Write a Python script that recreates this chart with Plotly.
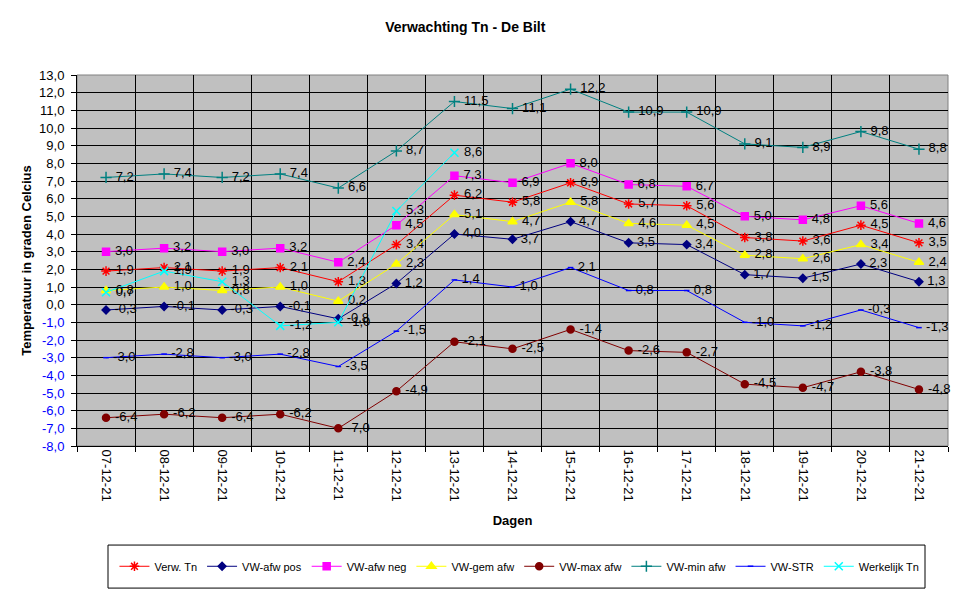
import plotly.graph_objects as go

# categories (days)
dagen = ["07-12-21", "08-12-21", "09-12-21", "10-12-21", "11-12-21", "12-12-21", "13-12-21",
         "14-12-21", "15-12-21", "16-12-21", "17-12-21", "18-12-21", "19-12-21", "20-12-21", "21-12-21"]

# series values
verw_tn = [1.9, 2.1, 1.9, 2.1, 1.3, 3.4, 6.2, 5.8, 6.9, 5.7, 5.6, 3.8, 3.6, 4.5, 3.5]
vw_afw_pos = [-0.3, -0.1, -0.3, -0.1, -0.8, 1.2, 4.0, 3.7, 4.7, 3.5, 3.4, 1.7, 1.5, 2.3, 1.3]
vw_afw_neg = [3.0, 3.2, 3.0, 3.2, 2.4, 4.5, 7.3, 6.9, 8.0, 6.8, 6.7, 5.0, 4.8, 5.6, 4.6]
vw_gem_afw = [0.8, 1.0, 0.8, 1.0, 0.2, 2.3, 5.1, 4.7, 5.8, 4.6, 4.5, 2.8, 2.6, 3.4, 2.4]
vw_max_afw = [-6.4, -6.2, -6.4, -6.2, -7.0, -4.9, -2.1, -2.5, -1.4, -2.6, -2.7, -4.5, -4.7, -3.8, -4.8]
vw_min_afw = [7.2, 7.4, 7.2, 7.4, 6.6, 8.7, 11.5, 11.1, 12.2, 10.9, 10.9, 9.1, 8.9, 9.8, 8.8]
vw_str = [-3.0, -2.8, -3.0, -2.8, -3.5, -1.5, 1.4, 1.0, 2.1, 0.8, 0.8, -1.0, -1.2, -0.3, -1.3]
werkelijk_tn = [0.7, 1.9, 1.3, -1.2, -1.0, 5.3, 8.6, None, None, None, None, None, None, None, None]

# y tick values
y_ticks = list(range(-8, 14))
y_ticktext = [
    (f"<span style='color:#0000FF'>{v},0</span>" if v < 0 else f"{v},0")
    for v in y_ticks
]

series = [
    ("Verw. Tn", verw_tn, "#FF0000", "asterisk-open", 8),
    ("VW-afw pos", vw_afw_pos, "#000080", "diamond", 6),
    ("VW-afw neg", vw_afw_neg, "#FF00FF", "square", 7),
    ("VW-gem afw", vw_gem_afw, "#FFFF00", "triangle-up", 8),
    ("VW-max afw", vw_max_afw, "#800000", "circle", 7),
    ("VW-min afw", vw_min_afw, "#008080", "cross-thin-open", 8),
    ("VW-STR", vw_str, "#0000FF", "line-ew-open", 4),
    ("Werkelijk Tn", werkelijk_tn, "#00FFFF", "x-thin-open", 8),
]

fig = go.Figure()
for name, vals, col, sym, sz in series:
    fig.add_trace(go.Scatter(
        x=dagen, y=vals, name=name, mode="lines+markers+text",
        line=dict(color=col, width=1),
        marker=dict(symbol=sym, size=sz, color=col, line=dict(color=col, width=1.5)),
        texttemplate=" %{y:.1f}", textposition="middle right",
        textfont=dict(family="Arial, Liberation Sans", size=13, color="black"),
        cliponaxis=False,
    ))

# the page adds an 8px body margin, so margins are shifted by 8px
fig.update_layout(
    width=975, height=599,
    separators=",.",
    paper_bgcolor="white",
    plot_bgcolor="#C0C0C0",
    font=dict(family="Arial, Liberation Sans", size=12, color="black"),
    title=dict(text="<b>Verwachting Tn - De Bilt</b>", x=0.469, xanchor="center",
               y=0.968, yanchor="middle", font=dict(size=14)),
    margin=dict(l=69, r=35, t=67, b=161, autoexpand=False),
    showlegend=True,
    legend=dict(orientation="h", x=0.508, xanchor="center",
                yref="container", y=0.068, yanchor="middle",
                borderwidth=0, bgcolor="rgba(0,0,0,0)",
                font=dict(size=11)),
    xaxis=dict(
        type="category", range=[-0.5, len(dagen) - 0.5],
        tickangle=90, tickson="boundaries", automargin=False,
        tickfont=dict(size=13),
        showgrid=True, gridcolor="black", gridwidth=1,
        showline=True, linecolor="black", linewidth=1,
        ticks="outside", ticklen=5, tickcolor="black",
        title=dict(text="<b>Dagen</b>", standoff=15, font=dict(size=13)),
    ),
    yaxis=dict(
        range=[-8, 13], tickvals=y_ticks, ticktext=y_ticktext, automargin=False,
        tickfont=dict(size=13), ticklabelstandoff=4,
        showgrid=True, gridcolor="black", gridwidth=1, zeroline=False,
        showline=True, linecolor="black", linewidth=1,
        ticks="outside", ticklen=5, tickcolor="black",
        title=dict(text="<b>Temperatuur in graden Celcius</b>", standoff=4, font=dict(size=13)),
    ),
    shapes=[
        dict(type="rect", xref="paper", yref="paper", x0=0, x1=1, y0=0, y1=1,
             line=dict(color="#808080", width=1), layer="below"),
        # legend frame
        dict(type="rect", xref="paper", yref="paper", x0=0.0356, x1=0.9736, y0=-0.383, y1=-0.267,
             line=dict(color="black", width=1), fillcolor="rgba(0,0,0,0)", layer="below"),
    ],
)

fig.write_html("out.html")
